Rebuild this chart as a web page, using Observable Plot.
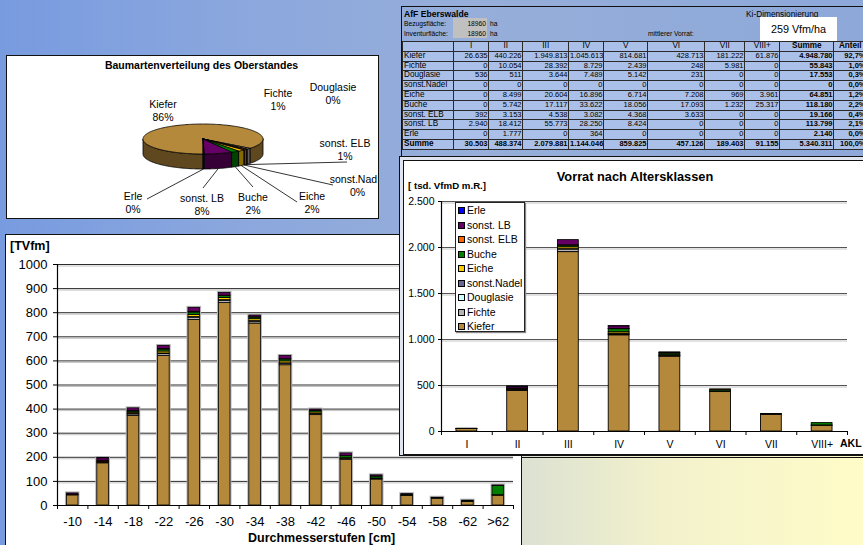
<!DOCTYPE html>
<html><head><meta charset="utf-8">
<script src="https://cdn.jsdelivr.net/npm/d3@7"></script>
<script src="https://cdn.jsdelivr.net/npm/@observablehq/plot@0.6"></script>
<style>
html,body{margin:0;padding:0;}
body{width:863px;height:545px;overflow:hidden;position:relative;font-family:"Liberation Sans",Arial,sans-serif;color:#000;
background:linear-gradient(90deg,#789be0 0%,#8ba7dd 28%,#96aed9 55%,#8da8d9 100%);}
.box{position:absolute;box-sizing:border-box;}
table.t{border-collapse:collapse;table-layout:fixed;}
table.t td{border:1px solid #2a2a2a;height:8.8px;padding:0 0.5px 0 1px;font-size:7.5px;line-height:8.8px;background:#abc0e8;overflow:hidden;white-space:nowrap;text-align:right;}
table.t td.l{text-align:left;font-size:8.2px;}
table.t td.c{text-align:center;font-size:8.2px;}
table.t td.b{font-weight:bold;}
</style>
</head><body>
<script>
// ---------------- DATA ----------------
const species = ["Kiefer","Fichte","Douglasie","sonst.Nadel","Eiche","Buche","sonst. ELB","sonst. LB","Erle"];
const speciesColors = ["#b5893b","#b4b4b4","#ccffff","#666699","#ffcc00","#008000","#ff6600","#660066","#0000ff"];

// age classes (table + right chart), values in Vfm
const akl = ["I","II","III","IV","V","VI","VII","VIII+"];
const aklKiefer    = [26635, 440226, 1949813, 1045613, 814681, 428713, 181222, 61876];
const aklFichte    = [0, 10054, 28392, 8729, 2439, 248, 5981, 0];
const aklDouglasie = [536, 511, 3644, 7489, 5142, 231, 0, 0];
const aklNadel     = [0, 0, 0, 0, 0, 0, 0, 0];
const aklEiche     = [0, 8499, 20604, 16896, 6714, 7208, 969, 3961];
const aklBuche     = [0, 5742, 17117, 33622, 18056, 17093, 1232, 25317];
const aklELB       = [392, 3153, 4538, 3082, 4368, 3633, 0, 0];
const aklLB        = [2940, 18412, 55773, 28250, 8424, 0, 0, 0];
const aklErle      = [0, 1777, 0, 364, 0, 0, 0, 0];
const speciesTotals = [4948780, 55843, 17553, 0, 64851, 118180, 19166, 113799, 2140];
const aklTotals = [30503, 488374, 2079881, 1144046, 859825, 457126, 189403, 91155];
const grandTotal = 5340311;

// diameter classes (left chart), TVfm
const dCats = ["-10","-14","-18","-22","-26","-30","-34","-38","-42","-46","-50","-54","-58","-62",">62"];
const dKiefer    = [42,175,372,620,770,840,755,582,375,190,108,40,28,15,40];
const dFichte    = [1,2,6,8,9,9,7,6,4,2,1,0,0,0,0];
const dDouglasie = [0,0,2,3,3,3,3,2,1,1,0,0,0,0,0];
const dNadel     = [0,0,0,0,0,0,0,0,0,0,0,0,0,0,0];
const dEiche     = [0,2,5,8,9,9,8,8,6,5,3,1,0,0,3];
const dBuche     = [1,3,5,8,10,8,7,8,6,8,8,4,3,3,38];
const dELB       = [1,4,3,3,3,2,1,1,1,0,0,0,0,0,0];
const dLB        = [5,10,10,12,16,11,7,13,5,10,5,2,1,2,2];
const dErle      = [0,1,0,0,0,0,0,0,0,0,0,0,0,0,0];

// pie (Oberstand), percent shares
const pieSpecies = ["Kiefer","Fichte","Douglasie","sonst. ELB","sonst.Nadel","Eiche","Buche","sonst. LB","Erle"];
const pieShares  = [85.7, 1.1, 0.3, 0.9, 0.1, 1.8, 2.2, 7.6, 0.3];

// header texts
const tableTitle = "AfF Eberswalde";
const dimText = "Ki-Dimensionierung";
const areaLabels = ["Bezugsfläche:", "Inventurfläche:"];
const areaValues = [18960, 18960];
const meanLabel = "mittlerer Vorrat:";
const meanValue = "259 Vfm/ha";

// ---------------- LAYOUT (annotation positions, pixels) ----------------
const PIE = {cx: 195.5, cy: 82.5, rx: 60, ry: 15, depth: 15};
const PIE_LABELS = {
  "Kiefer": {x:155.5, y:54}, "Fichte": {x:270.5, y:43}, "Douglasie": {x:325.5, y:37},
  "sonst. ELB": {x:337.5, y:92.5, lx:339.5, ly:105.5}, "sonst.Nadel": {x:350, y:129, lx:325.5, ly:128.5},
  "Eiche": {x:304.5, y:146, lx:289.5, ly:145.5}, "Buche": {x:245.5, y:146.5, lx:245.5, ly:130.5},
  "sonst. LB": {x:194.5, y:147.5, lx:195.5, ly:131.5}, "Erle": {x:125.5, y:145.5, lx:139.5, ly:142.5}
};

// ---------------- helpers ----------------
const de = d3.formatLocale({decimal: ",", thousands: ".", grouping: [3], currency: ["", "€"]});
const fmtInt = de.format(",d");
const fmtPct = v => de.format(".1f")(v) + "%";
function addBox(css, parent) {
  const d = document.createElement("div");
  d.className = "box"; d.style.cssText += css;
  (parent || document.body).appendChild(d); return d;
}
function addText(txt, left, cy, size, extra, parent) {
  const d = document.createElement("div");
  d.textContent = txt;
  d.style.cssText = `position:absolute;left:${left}px;top:${cy - size/2}px;font-size:${size}px;line-height:${size}px;white-space:nowrap;` + (extra || "");
  (parent || document.body).appendChild(d); return d;
}
function placeSvg(svg, left, top, parent) {
  svg.style.position = "absolute"; svg.style.left = left + "px"; svg.style.top = top + "px";
  svg.style.maxWidth = "none"; svg.style.background = "transparent";
  (parent || document.body).appendChild(svg);
}
const colorScale = {domain: species, range: speciesColors};
const fontFam = "'Liberation Sans', Arial, sans-serif";

// ---------------- PIE PANEL ----------------
const piePanel = addBox("left:6px;top:55px;width:373px;height:164px;background:#fff;border:1.5px solid #111;overflow:hidden;");
addText("Baumartenverteilung des Oberstandes", 0, 9, 10.5, "width:389px;text-align:center;font-weight:bold;", piePanel);

const pieArcs = d3.pie().sort(null).startAngle(Math.PI).endAngle(3 * Math.PI)(pieShares);
const pieTotal = d3.sum(pieShares);
const P = (a, dz = 0) => ({x: PIE.cx + PIE.rx * Math.sin(a), y: PIE.cy - PIE.ry * Math.cos(a) + dz});
const arcPts = (a0, a1, dz) => { const n = Math.max(2, Math.ceil((a1 - a0) / 0.02)); return d3.range(n + 1).map(k => P(a0 + (a1 - a0) * k / n, dz)); };
const pieColor = name => speciesColors[species.indexOf(name)];
const pieMarks = [];
pieArcs.forEach((arc, k) => {
  const side = d3.color(pieColor(pieSpecies[k])).darker(1.8).formatHex();
  [[Math.PI / 2, 1.5 * Math.PI], [2.5 * Math.PI, 3.5 * Math.PI]].forEach(([w0, w1]) => {
    const b0 = Math.max(arc.startAngle, w0), b1 = Math.min(arc.endAngle, w1);
    if (b1 > b0) {
      const pts = [...arcPts(b0, b1, 0), ...arcPts(b0, b1, PIE.depth).reverse()];
      pts.push(pts[0]);
      pieMarks.push(Plot.line(pts, {x: "x", y: "y", fill: side, stroke: "#000", strokeWidth: 0.8}));
    }
  });
});
pieArcs.forEach((arc, k) => {
  const c = {x: PIE.cx, y: PIE.cy};
  const pts = [c, ...arcPts(arc.startAngle, arc.endAngle, 0), c];
  pieMarks.push(Plot.line(pts, {x: "x", y: "y", fill: pieColor(pieSpecies[k]), stroke: "#000", strokeWidth: 0.8}));
});
const pieInfo = pieArcs.map((arc, k) => {
  const name = pieSpecies[k], L = PIE_LABELS[name];
  const mid = (arc.startAngle + arc.endAngle) / 2, e = P(mid, PIE.depth);
  return {name, pct: Math.round(pieShares[k] / pieTotal * 100) + "%", ...L, ex: e.x, ey: e.y};
});
pieMarks.push(Plot.link(pieInfo.filter(d => d.lx != null), {x1: "ex", y1: "ey", x2: "lx", y2: "ly", stroke: "#000", strokeWidth: 0.8}));
pieMarks.push(Plot.text(pieInfo, {x: "x", y: "y", text: d => d.name + "\n" + d.pct, fontSize: 10.5, lineHeight: 1.24, fill: "#000"}));
const pieSvg = Plot.plot({
  width: 370, height: 161, margin: 0,
  x: {domain: [0, 370], axis: null}, y: {domain: [0, 161], range: [0, 161], axis: null},
  style: {fontFamily: fontFam, background: "transparent"},
  marks: pieMarks
});
placeSvg(pieSvg, 0, 0, piePanel);

// ---------------- LEFT BAR CHART ----------------
addBox("left:5px;top:234px;width:517px;height:320px;background:#fff;border:1.5px solid #111;");
const dArrays = [dKiefer, dFichte, dDouglasie, dNadel, dEiche, dBuche, dELB, dLB, dErle];
const leftRows = species.flatMap((sp, k) => dArrays[k].map((v, i) => ({i, sp, v})));
const leftTotals = dCats.map((c, i) => ({i, total: d3.sum(dArrays, a => a[i])}));
const BW = 0.31;
const leftSvg = Plot.plot({
  width: 517, height: 311, marginLeft: 52, marginRight: 9, marginTop: 30, marginBottom: 40,
  x: {domain: [0, dCats.length], axis: null},
  y: {domain: [0, 1000], axis: null},
  color: colorScale,
  style: {fontFamily: fontFam, background: "transparent", color: "#000"},
  marks: [
    Plot.ruleY(d3.range(100, 1001, 100), {stroke: "#c4c4c4", dy: 1.5}),
    Plot.ruleY(d3.range(100, 1001, 100), {stroke: "#2b2b2b", strokeWidth: 1}),
    Plot.rect(leftTotals, {x1: d => d.i + BW, x2: d => d.i + 1 - BW, y1: 0, y2: "total", fill: "#b0b0b0", insetLeft: -1.5, insetRight: -1.5, insetTop: -1.5}),
    Plot.rect(leftRows, Plot.stackY({x: "i", x1: d => d.i + BW, x2: d => d.i + 1 - BW, y: "v", fill: "sp", order: species, stroke: "#000", strokeWidth: 0.8})),
    Plot.ruleY([0], {stroke: "#000", strokeWidth: 1.2}),
    Plot.ruleX([0], {stroke: "#000", strokeWidth: 1.2}),
    Plot.axisY({ticks: d3.range(0, 1001, 100), tickFormat: d => String(d), tickSize: 4, tickPadding: 6, fontSize: 13, label: null}),
    Plot.axisX({ticks: d3.range(0, dCats.length + 1), tickFormat: () => "", tickSize: 4, label: null}),
    Plot.axisX({ticks: d3.range(dCats.length).map(i => i + 0.5), tickFormat: t => dCats[Math.floor(t)], tickSize: 0, tickPadding: 11, fontSize: 13, label: null})
  ]
});
placeSvg(leftSvg, 5, 234);
addText("[TVfm]", 10, 246, 12.5, "font-weight:bold;");
addText("Durchmesserstufen [cm]", 248, 538, 12.5, "font-weight:bold;");

// ---------------- TABLE ----------------
addBox("left:401px;top:6px;width:470px;height:151px;border:1px solid #111;");
addText(tableTitle, 404, 14, 8.6, "font-weight:bold;");
addText(dimText, 746, 14, 8.3, "");
addBox("left:453px;top:18px;width:34px;height:20px;background:#c0c0c0;");
areaLabels.forEach((t, k) => {
  addText(t, 404, 24 + 10 * k, 6.7, "");
  addText(String(areaValues[k]), 453, 24 + 10 * k, 6.7, "width:33px;text-align:right;");
  addText("ha", 490, 24 + 10 * k, 6.7, "");
});
addText(meanLabel, 648, 34, 6.7, "");
const mv = addBox("left:760px;top:17px;width:77px;height:25px;background:#fff;");
addText(meanValue, 0, 12.5, 10.8, "width:77px;text-align:center;", mv);

const aklArrays = [aklKiefer, aklFichte, aklDouglasie, aklNadel, aklEiche, aklBuche, aklELB, aklLB, aklErle];
const colW = [51, 35, 34, 46, 35, 44, 57, 40, 35, 54, 33];
let th = `<table class="t" style="width:${d3.sum(colW)}px"><colgroup>` + colW.map(w => `<col style="width:${w}px">`).join("") + "</colgroup>";
th += "<tr><td></td>" + akl.map(a => `<td class="c">${a}</td>`).join("") + `<td class="c b">Summe</td><td class="c b">Anteil</td></tr>`;
species.forEach((sp, k) => {
  th += `<tr><td class="l">${sp}</td>` + aklArrays[k].map(v => `<td>${fmtInt(v)}</td>`).join("") +
    `<td class="b">${fmtInt(speciesTotals[k])}</td><td class="b">${fmtPct(speciesTotals[k] / grandTotal * 100)}</td></tr>`;
});
th += `<tr><td class="l b">Summe</td>` + aklTotals.map(v => `<td class="b">${fmtInt(v)}</td>`).join("") +
  `<td class="b">${fmtInt(grandTotal)}</td><td class="b">${fmtPct(100)}</td></tr></table>`;
const tdiv = addBox("left:402px;top:41px;");
tdiv.innerHTML = th;

// ---------------- RIGHT CHART ----------------
addBox("left:399px;top:156px;width:470px;height:300px;background:#dfe4ef;border:1px solid #111;");
addBox("left:403px;top:160px;width:466px;height:295px;background:#fff;border:1px solid #111;");
const rightRows = species.flatMap((sp, k) => aklArrays[k].map((v, i) => ({i, sp, v: v / 1000})));
const RW = 0.295;
const rightSvg = Plot.plot({
  width: 459, height: 294, marginLeft: 37, marginRight: 16, marginTop: 40, marginBottom: 24,
  x: {domain: [0, akl.length], axis: null},
  y: {domain: [0, 2500], axis: null},
  color: colorScale,
  style: {fontFamily: fontFam, background: "transparent", color: "#000"},
  marks: [
    Plot.ruleY(d3.range(500, 2501, 500), {stroke: "#c4c4c4", dy: 1.5}),
    Plot.ruleY(d3.range(500, 2501, 500), {stroke: "#555", strokeWidth: 1}),
    Plot.rect(rightRows, Plot.stackY({x: "i", x1: d => d.i + RW, x2: d => d.i + 1 - RW, y: "v", fill: "sp", order: species, stroke: "#000", strokeWidth: 0.9})),
    Plot.ruleY([0], {stroke: "#000", strokeWidth: 1.2}),
    Plot.ruleX([0], {stroke: "#000", strokeWidth: 1.2}),
    Plot.axisY({ticks: d3.range(0, 2501, 500), tickFormat: fmtInt, tickSize: 3, tickPadding: 4, fontSize: 10.5, label: null}),
    Plot.axisX({ticks: d3.range(0, akl.length + 1), tickFormat: () => "", tickSize: 4, label: null}),
    Plot.axisX({ticks: d3.range(akl.length).map(i => i + 0.5), tickFormat: t => akl[Math.floor(t)], tickSize: 0, tickPadding: 9, fontSize: 10.5, label: null})
  ]
});
placeSvg(rightSvg, 404, 161);
addText("Vorrat nach Altersklassen", 635 - 80, 177, 12.8, "width:160px;text-align:center;font-weight:bold;");
addText("[ tsd. VfmD m.R.]", 408, 186, 9.7, "font-weight:bold;");
addText("AKL", 840, 443, 10.5, "font-weight:bold;");
const leg = addBox("left:455px;top:202px;width:70px;height:130px;background:#fff;border:1px solid #222;box-shadow:1px 1px 1px #888;");
species.slice().reverse().forEach((sp, j) => {
  const cy = 7.5 + 14.5 * j;
  addBox(`left:2px;top:${cy - 3.5}px;width:7px;height:7px;background:${speciesColors[species.indexOf(sp)]};border:1px solid #000;`, leg);
  addText(sp, 11, cy, 10.5, "", leg);
});

// ---------------- YELLOW PANEL ----------------
addBox("left:521px;top:455px;width:345px;height:95px;border-left:1px solid #111;border-top:3px double #111;background:linear-gradient(90deg,#dce1d2 0%,#f2f1cc 40%,#fffcc8 100%);");
</script>
</body></html>
